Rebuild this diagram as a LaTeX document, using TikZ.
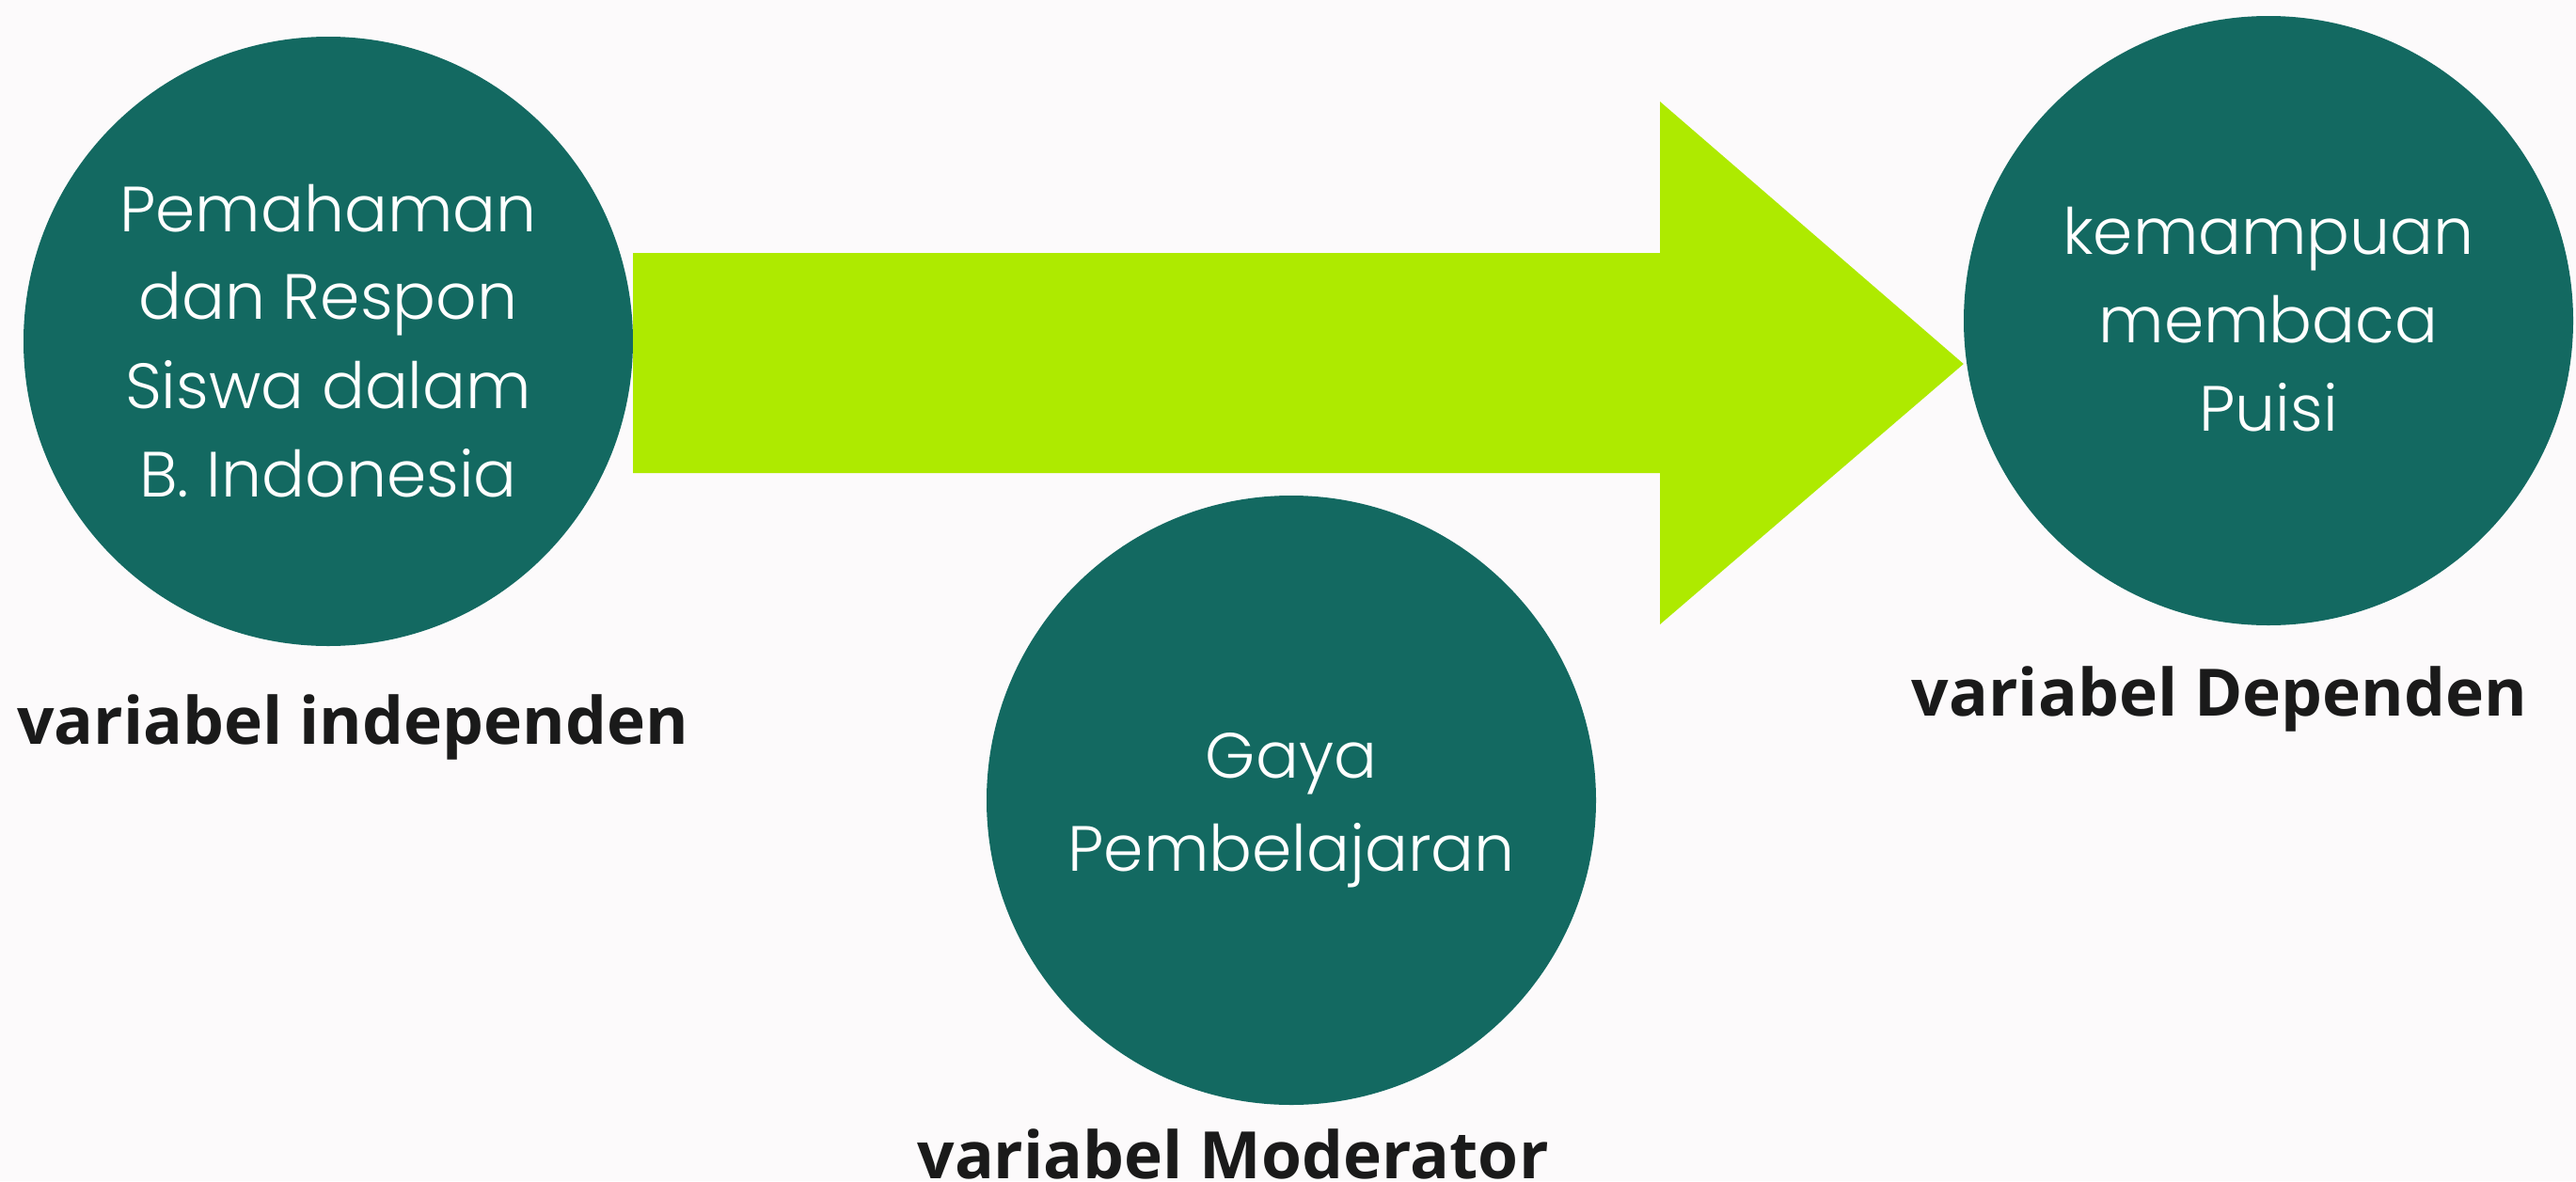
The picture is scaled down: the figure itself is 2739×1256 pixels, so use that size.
\documentclass[tikz,border=0pt]{standalone}
\usepackage{fontspec}
\newfontfamily\thinfont{Poppins}[UprightFont={* Light}]
\newfontfamily\boldlab{Open Sans}[UprightFont={* Bold}]
\definecolor{bgc}{HTML}{FCFAFB}
\definecolor{tealc}{HTML}{136961}
\definecolor{limec}{HTML}{AEEA00}
\definecolor{darkc}{HTML}{1A1A1A}
\begin{document}
\begin{tikzpicture}[x=1pt,y=-1pt,
  varcircle/.style={circle,fill=tealc,draw=none,minimum size=648pt,inner sep=0pt},
  intext/.style={anchor=base,text=white,inner sep=0pt,font=\thinfont\fontsize{68}{94}\selectfont},
  varlabel/.style={anchor=base,text=darkc,inner sep=0pt,font=\boldlab\fontsize{69.5}{80}\selectfont}]
\fill[bgc] (0,0) rectangle (2739,1256);
\useasboundingbox (0,0) rectangle (2739,1256);
\node[varcircle] (c1) at (349,363) {};
\node[varcircle] (c2) at (2412,341) {};
\node[varcircle] (c3) at (1373,851) {};
% arrow
\fill[limec] (c1.east |- 0,269) -- (1765,269) -- (1765,108) -- (c2.west |- 0,387) -- (1765,664) -- (1765,503) -- (c1.east |- 0,503) -- cycle;
% texts
\node[intext] (t1a) at (349,246) {Pemahaman};
\node[intext] (t1b) at (349,339) {dan Respon};
\node[intext] (t1c) at (349,434) {Siswa dalam};
\node[intext] (t1d) at (349,528) {B. Indonesia};
\node[intext] (t2a) at (2412,270) {kemampuan};
\node[intext] (t2b) at (2412,364) {membaca};
\node[intext] (t2c) at (2412,458) {Puisi};
\node[intext] (t3a) at (1373,827) {Gaya};
\node[intext] (t3b) at (1373,926) {Pembelajaran};
\node[varlabel] (l1) at (375,791) {variabel independen};
\node[varlabel] (l2) at (2360,761) {variabel Dependen};
\node[varlabel] (l3) at (1311,1253) {variabel Moderator};
\end{tikzpicture}
\end{document}
